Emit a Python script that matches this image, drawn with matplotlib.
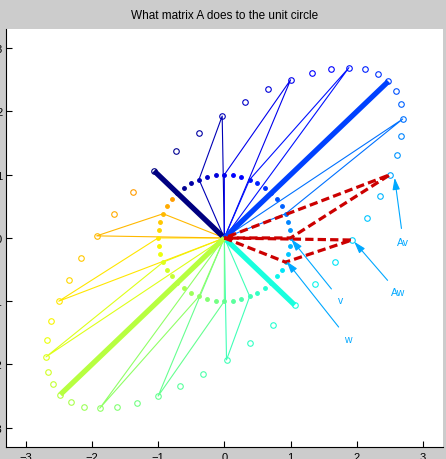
import numpy as np
import matplotlib
matplotlib.use("Agg")
import matplotlib.pyplot as plt

plt.rcParams['font.family'] = ['Liberation Sans', 'DejaVu Sans']

# the matrix and the sampled angles on the unit circle (degrees), in colour order
A = [[2.5, 1.0],
     [1.0, 2.5]]
angles_deg = [135, 127.5, 120, 112.5, 105, 97.5, 90, 82.5, 75, 67.5, 60, 52.5,
              45, 37.5, 30, 22.5, 15, 7.5, 0, 352.5, 345, 337.5, 330, 322.5,
              315, 307.5, 300, 292.5, 285, 277.5, 270, 262.5, 255, 247.5, 240, 232.5,
              225, 217.5, 210, 202.5, 195, 187.5, 180, 172.5, 165, 157.5, 150, 142.5]
triangle_idx = [3, 6, 9, 15, 27, 30, 33, 39, 42, 45]
eigen_idx = [0, 12, 24, 36]
v_idx = 18
w_idx = 21

# label, text position, arrow target
labels = ["v", "w", "Aw", "Av"]
label_pos = [(1.75, -0.98), (1.87, -1.60), (2.62, -0.86), (2.70, -0.06)]
label_target = [(1.01, -0.02), (0.94, -0.37), (1.96, -0.06), (2.57, 0.95)]

A = np.array(A)
t = np.radians(angles_deg)
X = np.vstack([np.cos(t), np.sin(t)])
AX = A @ X
colors = [plt.cm.jet(k / 63) for k in range(len(angles_deg))]

fig = plt.figure(figsize=(4.46, 4.60), dpi=100, facecolor=(0.8, 0.8, 0.8))
ax = fig.add_axes([5.7 / 446, 12.3 / 460, 437.3 / 446, 417.5 / 460])
ax.set_facecolor('white')

for k in triangle_idx:
    xs = [0, X[0, k], AX[0, k], 0]
    ys = [0, X[1, k], AX[1, k], 0]
    ax.plot(xs, ys, color=colors[k], lw=0.8, zorder=2)

for k in eigen_idx:
    ax.plot([0, AX[0, k]], [0, AX[1, k]], color=colors[k], lw=3.8,
            solid_capstyle='butt', zorder=3)

for k in range(len(angles_deg)):
    ax.plot(X[0, k], X[1, k], 'o', ms=2.5, mfc=colors[k], mec=colors[k], zorder=4)
    ax.plot(AX[0, k], AX[1, k], 'o', ms=4.0, mfc='none', mec=colors[k], mew=0.8, zorder=4)

for k in [v_idx, w_idx]:
    xs = [0, X[0, k], AX[0, k], 0]
    ys = [0, X[1, k], AX[1, k], 0]
    ax.plot(xs, ys, color=(0.8, 0.0, 0.0), lw=2.3, ls=(0, (2.6, 1.3)), zorder=5)

arrow_col = (0.0, 0.66, 1.0)
for lab, pos, tgt in zip(labels, label_pos, label_target):
    ax.annotate(lab, xy=tgt, xytext=pos, color=arrow_col, fontsize=7.5,
                ha='center', va='center', zorder=6,
                arrowprops=dict(arrowstyle='-|>,head_length=0.7,head_width=0.22',
                                color=arrow_col, lw=0.8, shrinkA=4, shrinkB=0,
                                mutation_scale=10))

ax.set_xlim(-3.3, 3.3)
ax.set_ylim(-3.3, 3.3)
ax.set_xticks([-3, -2, -1, 0, 1, 2, 3])
ax.set_yticks([-3, -2, -1, 0, 1, 2, 3])
ax.set_xticklabels(['\u22123', '\u22122', '\u22121', '0', '1', '2', '3'])
ax.set_yticklabels(['\u22123', '\u22122', '\u22121', '0', '1', '2', '3'])
ax.tick_params(direction='in', length=4, width=0.8, labelsize=8)
ax.tick_params(axis='x', pad=3.5)
ax.tick_params(axis='y', pad=2.5)
ax.spines['top'].set_visible(False)
ax.spines['right'].set_visible(False)
ax.spines['left'].set_linewidth(0.8)
ax.spines['bottom'].set_linewidth(0.8)

fig.text(224.4 / 446, 1 - 16 / 460, "What matrix A does to the unit circle",
         ha='center', va='center', fontsize=8.5)

fig.savefig("out.png", dpi=100, facecolor=fig.get_facecolor())
